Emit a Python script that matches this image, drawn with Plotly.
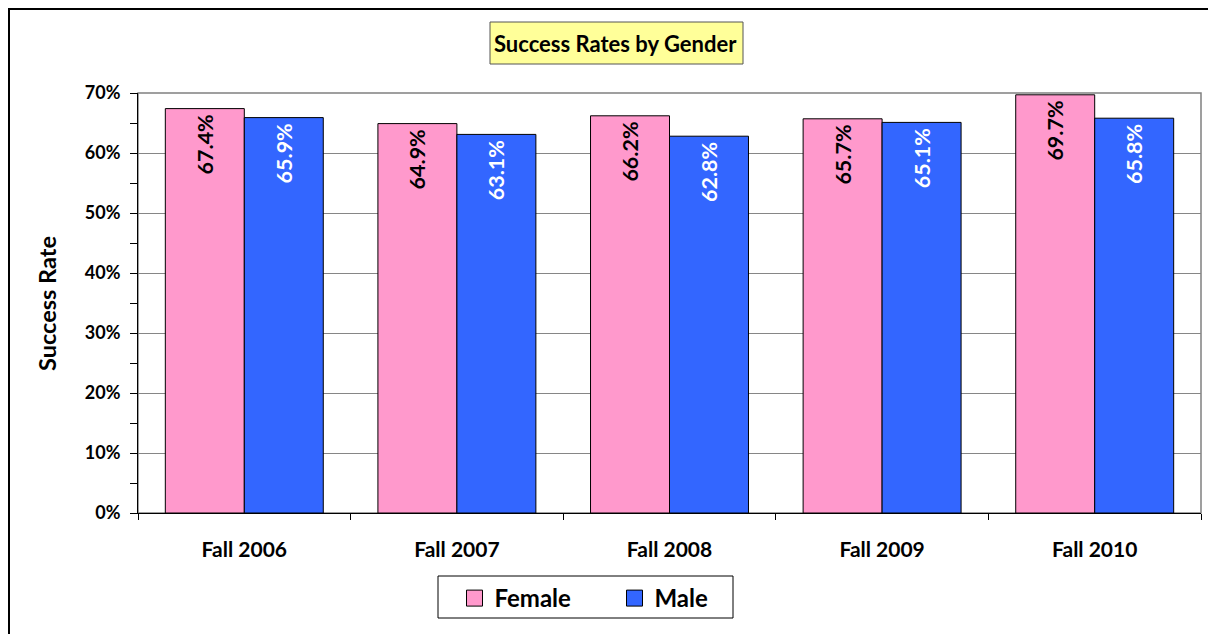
import plotly.graph_objects as go

categories = ["Fall 2006", "Fall 2007", "Fall 2008", "Fall 2009", "Fall 2010"]
female = [0.674, 0.649, 0.662, 0.657, 0.697]
male = [0.659, 0.631, 0.628, 0.651, 0.658]
title_text = "Success Rates by Gender"
y_title = "Success Rate"

FONT = "Lato"
# page is offset 8px by the browser body margin
W, H = 1208, 626
L, R, T, B = 130, 15, 85, 121
PW, PH = W - L - R, H - T - B


def px(x):
    return (x - L) / PW


def py(y):
    return (H - B - y) / PH


fig = go.Figure()
fig.add_trace(go.Bar(
    x=categories, y=female, name="Female", showlegend=False,
    marker=dict(color="#FF99CC", line=dict(color="black", width=1)),
    texttemplate="%{y:.1%}\u2009", textposition="inside", insidetextanchor="end",
    constraintext="none",
    textangle=-90, textfont=dict(family=FONT, size=21.5, color="black", weight="bold"),
))
fig.add_trace(go.Bar(
    x=categories, y=male, name="Male", showlegend=False,
    marker=dict(color="#3366FF", line=dict(color="black", width=1)),
    texttemplate="%{y:.1%}\u2009", textposition="inside", insidetextanchor="end",
    constraintext="none",
    textangle=-90, textfont=dict(family=FONT, size=21.5, color="white", weight="bold"),
))
# legend proxies
for name, col in [("Female", "#FF99CC"), ("Male", "#3366FF")]:
    fig.add_trace(go.Scatter(
        x=[None], y=[None], mode="markers", name=name,
        marker=dict(symbol="square", size=16, color=col, line=dict(color="black", width=1)),
    ))

fig.update_layout(
    width=W, height=H,
    margin=dict(l=L, r=R, t=T, b=B),
    paper_bgcolor="white", plot_bgcolor="white",
    barmode="group", bargap=0.257, bargroupgap=0,
    font=dict(family=FONT, color="black"),
    showlegend=True,
    legend=dict(
        orientation="h", x=px(446.5), xanchor="left", y=py(568), yanchor="top",
        borderwidth=0, bgcolor="rgba(0,0,0,0)",
        font=dict(family=FONT, size=24, weight="bold"),
        entrywidth=115, itemwidth=30,
    ),
    xaxis=dict(
        showline=True, linecolor="black", linewidth=1,
        ticks="outside", ticklen=6, tickcolor="black", tickson="boundaries",
        tickfont=dict(family=FONT, size=21, weight="bold"),
        ticklabelstandoff=18,
        showgrid=False,
    ),
    yaxis=dict(
        range=[0, 0.7], dtick=0.1, tickformat=".0%",
        showline=True, linecolor="black", linewidth=1,
        ticks="outside", ticklen=7, tickcolor="black",
        minor=dict(dtick=0.05, ticks="outside", ticklen=7, tickcolor="black", showgrid=False),
        showgrid=True, gridcolor="#868686", gridwidth=1,
        tickfont=dict(family=FONT, size=18, weight="bold"),
        ticklabelstandoff=6,
        zeroline=False,
    ),
    shapes=[
        # plot area border
        dict(type="rect", xref="paper", yref="paper", x0=0, y0=0, x1=1, y1=1,
             line=dict(color="#808080", width=1.5), layer="below"),
        # outer chart border (right/bottom off-screen)
        dict(type="rect", xref="paper", yref="paper",
             x0=px(0.5), y0=py(H + 20), x1=px(W + 20), y1=py(0.5),
             line=dict(color="black", width=3)),
        # title box
        dict(type="rect", xref="paper", yref="paper",
             x0=px(482), y0=py(56), x1=px(735), y1=py(14),
             fillcolor="#FFFF99", line=dict(color="#555555", width=1)),
        # legend box
        dict(type="rect", xref="paper", yref="paper",
             x0=px(430), y0=py(610), x1=px(725), y1=py(568),
             fillcolor="white", line=dict(color="black", width=1), layer="below"),
    ],
    annotations=[
        dict(text=title_text, xref="paper", yref="paper",
             x=px(607.5), y=py(36), xanchor="center", yanchor="middle", showarrow=False,
             font=dict(family=FONT, size=22, weight="bold", color="black")),
        dict(text=y_title, xref="paper", yref="paper", textangle=-90,
             x=px(39), y=py(296), xanchor="center", yanchor="middle", showarrow=False,
             font=dict(family=FONT, size=23.5, weight="bold", color="black")),
    ],
)

fig.write_html("out.html")
